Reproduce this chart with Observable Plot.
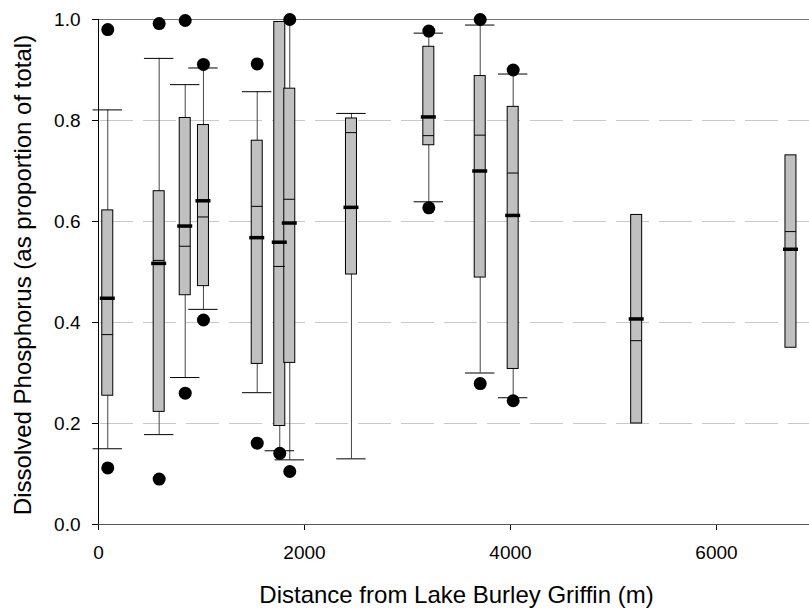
<!DOCTYPE html>
<html><head><meta charset="utf-8">
<script src="https://cdn.jsdelivr.net/npm/d3@7"></script>
<script src="https://cdn.jsdelivr.net/npm/@observablehq/plot@0.6"></script>
<style>body{margin:0;background:#fff}</style>
</head><body><div id="chart"></div>
<script>
// Distance of each sampling site (m)
const distances   = [90, 589, 842, 1019, 1541, 1760, 1857, 2456, 3207, 3706, 4026, 5225, 6723];
const whiskerLow  = [0.150, 0.178, 0.291, 0.426, 0.261, 0.146, 0.128, 0.130, 0.639, 0.300, 0.251, null, null];
const quart1      = [0.255, 0.223, 0.454, 0.472, 0.318, 0.195, 0.320, 0.495, 0.751, 0.489, 0.308, 0.200, 0.350];
const medians     = [0.376, 0.523, 0.551, 0.609, 0.630, 0.511, 0.644, 0.776, 0.770, 0.771, 0.696, 0.364, 0.580];
const means       = [0.448, 0.517, 0.591, 0.641, 0.568, 0.559, 0.597, 0.628, 0.807, 0.700, 0.612, 0.407, 0.545];
const quart3      = [0.622, 0.660, 0.805, 0.791, 0.760, 0.995, 0.863, 0.804, 0.946, 0.888, 0.827, 0.613, 0.731];
const whiskerHigh = [0.821, 0.923, 0.871, 0.904, 0.857, null, 1.000, 0.814, 0.973, 0.989, 0.892, null, null];

const outlierDistance = [90, 90, 589, 589, 842, 842, 1019, 1019, 1541, 1541, 1760, 1857, 1857, 3207, 3207, 3706, 3706, 4026, 4026];
const outlierValue    = [0.980, 0.112, 0.992, 0.090, 0.998, 0.260, 0.911, 0.405, 0.912, 0.161, 0.141, 1.000, 0.105, 0.977, 0.627, 1.000, 0.279, 0.900, 0.245];

const xTicks = [0, 2000, 4000, 6000];
const yTicks = [0, 0.2, 0.4, 0.6, 0.8, 1.0];
const gridLines = [0.2, 0.4, 0.6, 0.8];
const xTitle = "Distance from Lake Burley Griffin (m)";
const yTitle = "Dissolved Phosphorus (as proportion of total)";

const W = 809, H = 610, mL = 98, mR = 0, mT = 19, mB = 86;
const xMax = 6903;
const kx = (W - mL - mR) / xMax; // px per metre
const boxHalf = 5.5 / kx, meanHalf = 7.5 / kx, capHalf = 14.7 / kx;

const rows = distances.map((x, i) => ({
  x, lo: whiskerLow[i], q1: quart1[i], med: medians[i], mean: means[i], q3: quart3[i], hi: whiskerHigh[i]
}));
const outliers = outlierDistance.map((x, i) => ({x, y: outlierValue[i]}));
const withHi = rows.filter(d => d.hi != null);
const withLo = rows.filter(d => d.lo != null);

const chart = Plot.plot({
  width: W, height: H,
  marginLeft: mL, marginRight: mR, marginTop: mT, marginBottom: mB,
  style: {fontFamily: "'Liberation Sans', Arial, sans-serif", fontSize: "19px", background: "white", color: "black"},
  x: {domain: [0, xMax], ticks: xTicks, tickSize: 6, tickPadding: 15, tickFormat: d3.format("d"), label: null},
  y: {domain: [0, 1], ticks: yTicks, tickSize: 6, tickPadding: 12, tickFormat: d3.format(".1f"), label: null},
  marks: [
    Plot.ruleY(gridLines, {stroke: "#c8c8c8", strokeDasharray: "33,10", strokeDashoffset: -2}),
    Plot.ruleX(withHi, {x: "x", y1: "q3", y2: "hi", stroke: "#444"}),
    Plot.ruleX(withLo, {x: "x", y1: "lo", y2: "q1", stroke: "#444"}),
    Plot.ruleY(withHi, {y: "hi", x1: d => d.x - capHalf, x2: d => d.x + capHalf, stroke: "black"}),
    Plot.ruleY(withLo, {y: "lo", x1: d => d.x - capHalf, x2: d => d.x + capHalf, stroke: "black"}),
    Plot.rect(rows, {x1: d => d.x - boxHalf, x2: d => d.x + boxHalf, y1: "q1", y2: "q3", fill: "#c0c0c0", stroke: "black", strokeWidth: 1}),
    Plot.ruleY(rows, {y: "med", x1: d => d.x - boxHalf, x2: d => d.x + boxHalf, stroke: "black"}),
    Plot.ruleY(rows, {y: "mean", x1: d => d.x - meanHalf, x2: d => d.x + meanHalf, stroke: "black", strokeWidth: 3.5}),
    Plot.ruleY([1], {stroke: "#777"}),
    Plot.ruleY([0], {stroke: "#555"}),
    Plot.ruleX([0], {stroke: "black"}),
    Plot.dot(outliers, {x: "x", y: "y", r: 6.5, fill: "black", stroke: null}),
    Plot.text([xTitle], {text: d => d, frameAnchor: "bottom", dx: 2.5, dy: 71, fontSize: 24, textAnchor: "middle", lineAnchor: "middle", fill: "black"}),
    Plot.text([yTitle], {text: d => d, frameAnchor: "left", rotate: -90, dx: -75, dy: 3, fontSize: 24, textAnchor: "middle", lineAnchor: "middle", fill: "black"})
  ]
});
document.getElementById("chart").appendChild(chart);
</script>
</body></html>
